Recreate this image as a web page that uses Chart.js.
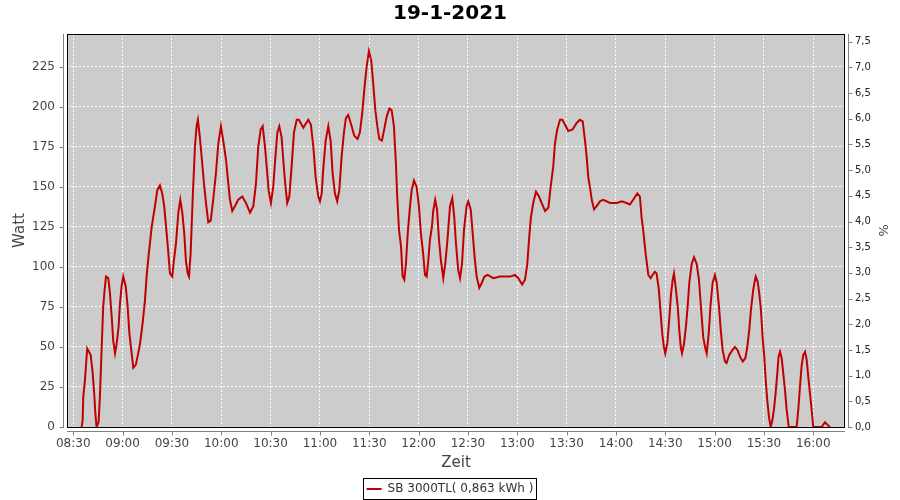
<!DOCTYPE html>
<html>
<head>
<meta charset="utf-8">
<script src="https://cdn.jsdelivr.net/npm/chart.js@4.4.1/dist/chart.umd.min.js"></script>
<style>
  html, body { margin: 0; padding: 0; background: #fff; }
  #wrap { width: 900px; height: 500px; }
</style>
</head>
<body>
<div id="wrap"><canvas id="chart" width="900" height="500"></canvas></div>
<script>
const chartTitle = '19-1-2021';
const seriesLabel = 'SB 3000TL( 0,863 kWh )';
const timeTicks = ['08:30', '09:00', '09:30', '10:00', '10:30', '11:00', '11:30', '12:00',
                   '12:30', '13:00', '13:30', '14:00', '14:30', '15:00', '15:30', '16:00'];
const wattTicks = [0, 25, 50, 75, 100, 125, 150, 175, 200, 225];
const percentTicks = [0, 0.5, 1, 1.5, 2, 2.5, 3, 3.5, 4, 4.5, 5, 5.5, 6, 6.5, 7, 7.5];

// minutes after 08:30 and the measured power
const startClock = '08:30';
const minutesFromStart = [
  5.1, 5.7, 6.1, 7.1, 7.7, 8.5, 10.6, 11.8, 12.8, 13.4, 14.2, 15.4, 16.2, 17.3, 18.2, 19.1, 19.9,
  21.3, 22.3, 23.5, 24.3, 25.4, 26.4, 27.6, 28.4, 29.4, 30.4, 31.9, 33.1, 34.1, 35.5, 36.5, 38.1,
  39.5, 40.6, 42.2, 43.6, 44.6, 46.0, 47.7, 49.7, 51.1, 52.7, 54.1, 55.3, 56.8, 57.8, 58.8, 60.2,
  61.2, 62.5, 63.9, 65.1, 66.3, 67.5, 68.5, 69.6, 70.4, 71.4, 72.6, 74.0, 75.0, 75.8, 77.0, 78.4,
  79.5, 80.7, 82.1, 83.6, 85.1, 86.8, 88.2, 89.8, 91.2, 92.9, 94.1, 95.3, 96.7, 98.3, 100.3, 102.8,
  105.0, 107.5, 109.5, 111.1, 112.5, 114.0, 115.2, 116.6, 117.6, 118.8, 120.2, 121.6, 122.8, 124.1,
  125.3, 126.7, 127.7, 128.9, 130.1, 131.4, 132.8, 134.2, 135.9, 137.2, 139.9, 142.9, 144.5, 146.0,
  147.4, 149.0, 150.0, 151.1, 152.0, 153.5, 155.1, 156.5, 157.7, 159.1, 160.5, 161.8, 163.2, 164.6,
  165.8, 167.2, 169.3, 170.9, 172.9, 174.3, 175.7, 177.0, 178.4, 179.8, 181.2, 182.4, 183.7, 184.9,
  186.1, 187.7, 189.1, 190.6, 192.2, 193.6, 195.0, 196.2, 197.0, 198.1, 199.3, 200.3, 201.3, 202.3,
  203.4, 204.8, 205.8, 207.2, 208.8, 210.2, 211.4, 212.8, 213.9, 214.9, 215.9, 216.9, 218.1, 218.9,
  220.1, 221.2, 222.4, 223.6, 225.0, 226.2, 227.4, 229.1, 230.5, 231.7, 232.7, 234.1, 235.2, 236.4,
  237.6, 239.2, 240.2, 241.7, 242.9, 244.1, 245.3, 246.9, 248.4, 250.0, 252.0, 255.4, 259.5, 265.6,
  268.6, 270.6, 273.0, 274.7, 276.1, 277.3, 278.3, 279.7, 281.4, 283.2, 284.8, 286.9, 288.9, 290.3,
  291.9, 292.9, 294.3, 296.0, 297.4, 299.0, 301.0, 303.7, 306.1, 308.1, 309.8, 311.2, 312.2, 313.2,
  314.2, 315.3, 316.7, 318.3, 320.3, 322.3, 326.4, 330.5, 333.5, 336.5, 338.5, 340.5, 343.0, 344.6,
  345.6, 346.6, 347.2, 348.1, 349.1, 349.7, 351.1, 352.3, 353.7, 354.7, 356.1, 357.2, 358.2, 359.2,
  360.0, 361.2, 362.4, 363.5, 364.5, 365.3, 366.5, 367.6, 368.5, 369.4, 370.2, 371.4, 372.6, 373.6,
  374.6, 376.1, 377.5, 379.1, 380.5, 381.7, 383.1, 384.2, 385.2, 386.4, 387.6, 388.8, 390.2, 391.3,
  392.7, 393.7, 394.9, 396.3, 397.3, 398.9, 400.8, 402.4, 404.0, 405.4, 407.1, 408.7, 409.9, 411.1,
  412.1, 413.5, 415.0, 416.2, 417.2, 418.2, 419.2, 420.2, 421.1, 422.0, 423.1, 424.1, 425.1, 426.1,
  427.1, 428.1, 428.9, 429.8, 430.8, 431.8, 432.8, 433.8, 435.1, 439.9, 440.9, 441.9, 442.9, 443.9,
  445.0, 446.0, 447.0, 448.0, 449.0, 450.0, 455.1, 457.1, 459.1, 460.2
];
const watt = [
  0, 4, 19, 29, 38, 49, 45, 34, 20, 9, 0, 3, 19, 50, 75, 86, 94,
  93, 84, 67, 54, 46, 52, 63, 77, 88, 94, 88, 75, 59, 46, 37, 39,
  46, 52, 65, 79, 94, 109, 125, 138, 148, 151, 146, 138, 121, 109, 96, 94,
  104, 115, 134, 142, 134, 121, 104, 96, 94, 109, 142, 175, 188, 192, 181, 165,
  152, 140, 128, 129, 142, 159, 177, 188, 179, 167, 154, 142, 135, 138, 142, 144,
  140, 134, 138, 152, 175, 186, 188, 175, 163, 148, 140, 150, 167, 184,
  188, 181, 167, 152, 140, 144, 163, 184, 192, 192, 187, 192, 189, 175,
  156, 144, 141, 146, 161, 179, 188, 179, 159, 146, 141, 148, 169, 184,
  193, 195, 188, 182, 180, 184, 196, 211, 225, 235, 229, 215, 198, 188,
  180, 179, 186, 194, 199, 198, 188, 165, 144, 123, 113, 94, 92, 102,
  121, 138, 148, 154, 150, 138, 121, 108, 95, 94, 104, 117, 125, 135,
  142, 136, 117, 104, 93, 102, 115, 138, 143, 131, 115, 98, 93, 102,
  123, 138, 141, 136, 121, 106, 94, 87, 90, 94, 95, 93, 94, 94,
  95, 93, 89, 92, 102, 119, 131, 140, 147, 144, 140, 135, 137, 150,
  163, 177, 186, 192, 192, 189, 185, 186, 190, 192, 191, 179, 169, 156,
  150, 142, 136, 138, 141, 142, 140, 140, 141, 140, 139, 142, 146, 144,
  131, 123, 117, 108, 100, 95, 93, 95, 97, 96, 86, 71, 58, 50,
  46, 52, 67, 83, 92, 96, 86, 75, 61, 50, 46, 52, 63, 75,
  90, 102, 106, 102, 92, 75, 56, 50, 46, 58, 77, 90, 95, 90,
  75, 61, 48, 41, 40, 45, 48, 50, 48, 44, 41, 43, 50, 61,
  73, 86, 94, 91, 83, 73, 56, 44, 29, 17, 6, 0, 4, 11,
  21, 33, 44, 47, 43, 33, 23, 11, 0, 0, 11, 25, 38, 45,
  47, 42, 31, 21, 11, 0, 0, 3, 1, 0
];

const FONT = 'DejaVu Sans';

function clockToMin(s) {
  const p = s.split(':');
  return parseInt(p[0], 10) * 60 + parseInt(p[1], 10);
}
function minToClock(m) {
  const h = Math.floor(m / 60), mm = Math.round(m - h * 60);
  return String(h).padStart(2, '0') + ':' + String(mm).padStart(2, '0');
}

const start = clockToMin(startClock);
const points = minutesFromStart.map((t, i) => ({ x: start + t, y: watt[i] }));

// plot background, frame, offset axis lines and the legend frame
const decorations = {
  id: 'decorations',
  afterLayout(chart) {
    // legend sits a bit lower than Chart.js puts it
    const lg = chart.legend;
    if (lg) { lg.top += 5; lg.bottom += 5; }
  },
  beforeDraw(chart) {
    const a = chart.chartArea, ctx = chart.ctx;
    ctx.save();
    ctx.fillStyle = '#cccccc';
    ctx.fillRect(a.left, a.top, a.right - a.left, a.bottom - a.top);
    ctx.restore();
  },
  afterDraw(chart) {
    const a = chart.chartArea, ctx = chart.ctx;
    const x = chart.scales.x, yl = chart.scales.y, yr = chart.scales.y1;
    ctx.save();
    ctx.strokeStyle = '#000';
    ctx.lineWidth = 1;
    ctx.strokeRect(Math.round(a.left) + 0.5, Math.round(a.top) + 0.5,
                   Math.round(a.right - a.left) - 1, Math.round(a.bottom - a.top));

    ctx.strokeStyle = '#808080';
    ctx.beginPath();
    const lx = Math.round(a.left) - 3.5;
    ctx.moveTo(lx, a.top); ctx.lineTo(lx, a.bottom + 1);
    yl.ticks.forEach(t => {
      const py = Math.round(yl.getPixelForValue(t.value)) + 0.5;
      ctx.moveTo(lx - 4, py); ctx.lineTo(lx, py);
    });
    const rx = Math.round(a.right) + 3.5;
    ctx.moveTo(rx, a.top); ctx.lineTo(rx, a.bottom + 1);
    yr.ticks.forEach(t => {
      const py = Math.round(yr.getPixelForValue(t.value)) + 0.5;
      ctx.moveTo(rx, py); ctx.lineTo(rx + 4, py);
    });
    const by = Math.round(a.bottom) + 4.5;
    ctx.moveTo(a.left, by); ctx.lineTo(a.right, by);
    x.ticks.forEach(t => {
      const px = Math.round(x.getPixelForValue(t.value)) + 0.5;
      ctx.moveTo(px, by); ctx.lineTo(px, by + 4);
    });
    ctx.stroke();

    const lg = chart.legend;
    if (lg && lg.legendHitBoxes && lg.legendHitBoxes.length) {
      const hb = lg.legendHitBoxes[0];
      ctx.strokeStyle = '#000';
      ctx.strokeRect(Math.round(hb.left) - 3.5, Math.round(hb.top + hb.height / 2) - 10.5,
                     Math.round(hb.width) + 6, 21);
    }
    ctx.restore();
  }
};

new Chart(document.getElementById('chart'), {
  type: 'line',
  data: {
    datasets: [{
      label: seriesLabel,
      data: points,
      borderColor: '#c00000',
      backgroundColor: '#c00000',
      borderWidth: 2,
      pointRadius: 0,
      tension: 0,
      fill: false,
      yAxisID: 'y'
    }]
  },
  options: {
    responsive: false,
    animation: false,
    layout: { padding: 0 },
    plugins: {
      title: {
        display: true,
        text: chartTitle,
        color: '#000',
        font: { family: FONT, size: 20, weight: 'bold', lineHeight: 1.2 },
        padding: { top: 2, bottom: 8 }
      },
      legend: {
        position: 'bottom',
        labels: {
          color: '#333',
          font: { family: FONT, size: 12 },
          boxWidth: 15,
          boxHeight: 2,
          padding: 6,
          generateLabels(chart) {
            return Chart.defaults.plugins.legend.labels.generateLabels(chart)
              .map(l => Object.assign(l, { lineWidth: 0 }));
          }
        }
      },
      tooltip: { enabled: false }
    },
    scales: {
      x: {
        type: 'linear',
        min: start - 3.8,
        max: clockToMin('16:00') + 19.3,
        afterBuildTicks(s) { s.ticks = timeTicks.map(t => ({ value: clockToMin(t) })); },
        afterFit(s) {
          const lh = s.chart.legend ? s.chart.legend.height : 30;
          s.height = 73 - lh;
        },
        ticks: {
          color: '#444',
          font: { family: FONT, size: 12 },
          padding: 10,
          maxRotation: 0,
          autoSkip: false,
          callback: v => minToClock(v)
        },
        grid: { color: '#ffffff', drawTicks: false, lineWidth: 1 },
        border: { display: false, dash: [2, 2] },
        title: {
          display: true, text: 'Zeit', color: '#444',
          font: { family: FONT, size: 15 }, padding: { top: 0, bottom: 0 }
        }
      },
      y: {
        position: 'left',
        min: 0,
        max: 245.6,
        afterBuildTicks(s) { s.ticks = wattTicks.map(v => ({ value: v })); },
        afterFit(s) { s.width = 67; },
        ticks: { color: '#444', font: { family: FONT, size: 12 }, padding: 12 },
        grid: { color: '#ffffff', drawTicks: false, lineWidth: 1 },
        border: { display: false, dash: [2, 2] },
        title: {
          display: true, text: 'Watt', color: '#444',
          font: { family: FONT, size: 15 }, padding: { top: 11, bottom: 0 }
        }
      },
      y1: {
        position: 'right',
        min: 0,
        max: 7.65,
        afterBuildTicks(s) { s.ticks = percentTicks.map(v => ({ value: v })); },
        afterFit(s) { s.width = 55; },
        ticks: {
          color: '#222', font: { family: FONT, size: 10 }, padding: 10,
          callback: v => v.toFixed(1).replace('.', ',')
        },
        grid: { display: false, drawTicks: false },
        border: { display: false },
        title: {
          display: true, text: '%', color: '#444',
          font: { family: FONT, size: 13 }, padding: { top: 10, bottom: 0 }
        }
      }
    }
  },
  plugins: [decorations]
});
</script>
</body>
</html>
